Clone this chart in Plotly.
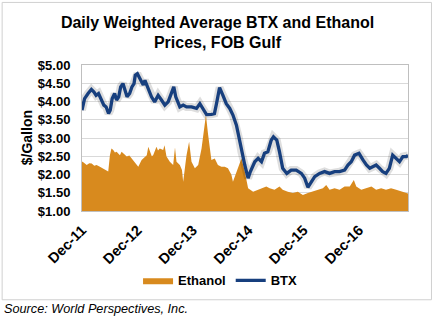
import plotly.graph_objects as go

btx_dates = [
    "2011-12-01", "2011-12-18", "2012-01-10", "2012-02-01", "2012-02-18", "2012-03-03",
    "2012-03-19", "2012-04-05", "2012-04-23", "2012-05-08", "2012-05-24", "2012-06-04",
    "2012-06-17", "2012-07-03", "2012-07-16", "2012-07-30", "2012-08-12", "2012-08-27",
    "2012-09-08", "2012-09-23", "2012-10-10", "2012-10-25", "2012-11-08", "2012-11-16",
    "2012-11-30", "2012-12-15", "2012-12-28", "2013-01-08", "2013-01-19", "2013-02-10",
    "2013-03-03", "2013-03-24", "2013-04-16", "2013-05-08", "2013-05-30", "2013-06-21",
    "2013-07-13", "2013-07-28", "2013-08-10", "2013-09-06", "2013-09-28", "2013-10-20",
    "2013-11-22", "2013-12-25", "2014-01-16", "2014-02-08", "2014-03-01", "2014-04-02",
    "2014-04-22", "2014-05-06", "2014-05-26", "2014-06-17", "2014-07-09", "2014-08-01",
    "2014-08-22", "2014-09-14", "2014-10-01", "2014-10-17", "2014-11-08", "2014-11-30",
    "2014-12-15", "2015-01-13", "2015-02-04", "2015-02-26", "2015-03-18", "2015-04-09",
    "2015-05-01", "2015-05-16", "2015-06-07", "2015-06-25", "2015-07-16", "2015-08-12",
    "2015-09-10", "2015-10-13", "2015-11-16", "2015-12-08", "2015-12-29", "2016-01-21",
    "2016-02-12", "2016-03-15", "2016-04-17", "2016-05-20", "2016-06-22", "2016-07-25",
    "2016-08-27", "2016-09-18", "2016-10-10", "2016-11-01", "2016-11-30", "2016-12-26",
    "2017-01-18", "2017-02-09", "2017-03-01", "2017-03-23", "2017-04-14", "2017-05-05",
    "2017-05-27", "2017-06-18", "2017-07-10", "2017-08-02", "2017-08-24", "2017-09-15",
    "2017-10-07", "2017-10-19",
]
btx_values = [
    3.76, 4.08, 4.22, 4.33, 4.26, 4.17,
    4.22, 4.04, 3.90, 3.85, 3.67, 3.76,
    4.08, 4.22, 4.04, 4.13, 4.40, 4.49,
    4.35, 4.13, 4.22, 4.40, 4.49, 4.72,
    4.76, 4.63, 4.54, 4.45, 4.58, 4.35,
    4.13, 3.99, 4.17, 4.04, 3.90, 3.99,
    4.26, 4.40, 4.13, 3.85, 3.90, 3.85,
    3.85, 3.81, 3.94, 3.78, 3.64, 3.65,
    3.67, 3.95, 4.38, 4.17, 3.94, 3.81,
    3.63, 3.35, 2.99, 2.62, 2.26, 1.90,
    2.08, 2.35, 2.44, 2.35, 2.58, 2.62,
    2.94, 3.03, 2.94, 2.62, 2.17, 2.03,
    2.12, 2.12, 2.03, 1.90, 1.65, 1.80,
    1.94, 2.03, 2.08, 2.03, 2.08, 2.08,
    2.12, 2.26, 2.35, 2.53, 2.58, 2.40,
    2.26, 2.17, 2.21, 2.26, 2.17, 2.08,
    2.03, 2.17, 2.53, 2.44, 2.35, 2.49,
    2.49, 2.52,
]

eth_dates = [
    "2011-12-01", "2011-12-05", "2011-12-20", "2012-01-01", "2012-01-18", "2012-02-03",
    "2012-02-20", "2012-03-06", "2012-03-28", "2012-04-15", "2012-04-30", "2012-05-22",
    "2012-06-02", "2012-06-12", "2012-06-24", "2012-07-05", "2012-07-16", "2012-08-07",
    "2012-08-18", "2012-08-29", "2012-09-21", "2012-10-08", "2012-10-24", "2012-11-15",
    "2012-12-06", "2012-12-28", "2013-01-15", "2013-01-31", "2013-02-10", "2013-02-21",
    "2013-03-05", "2013-03-14", "2013-04-05", "2013-04-15", "2013-04-27", "2013-05-19",
    "2013-05-28", "2013-06-10", "2013-07-02", "2013-07-24", "2013-08-05", "2013-08-15",
    "2013-09-06", "2013-09-20", "2013-09-28", "2013-10-10", "2013-10-20", "2013-11-06",
    "2013-11-22", "2013-12-14", "2014-01-05", "2014-01-27", "2014-02-12", "2014-02-25",
    "2014-03-11", "2014-04-02", "2014-04-24", "2014-05-15", "2014-06-07", "2014-06-29",
    "2014-07-20", "2014-08-12", "2014-08-22", "2014-09-14", "2014-10-06", "2014-10-17",
    "2014-11-08", "2014-11-30", "2015-01-02", "2015-02-04", "2015-03-07", "2015-03-30",
    "2015-04-21", "2015-05-23", "2015-06-25", "2015-07-16", "2015-08-19", "2015-09-21",
    "2015-10-24", "2015-11-26", "2015-12-29", "2016-02-01", "2016-03-04", "2016-04-06",
    "2016-04-28", "2016-05-20", "2016-06-22", "2016-07-25", "2016-08-27", "2016-09-30",
    "2016-10-27", "2016-11-12", "2016-12-15", "2017-01-18", "2017-02-20", "2017-03-23",
    "2017-04-25", "2017-05-27", "2017-06-29", "2017-08-02", "2017-09-04", "2017-10-07",
    "2017-10-19",
]
eth_values = [
    2.35, 2.35, 2.30, 2.26, 2.31, 2.30,
    2.24, 2.26, 2.21, 2.17, 2.12, 2.08,
    2.53, 2.71, 2.67, 2.60, 2.62, 2.53,
    2.62, 2.58, 2.49, 2.52, 2.44, 2.30,
    2.21, 2.40, 2.47, 2.53, 2.76, 2.62,
    2.50, 2.53, 2.76, 2.66, 2.71, 2.67,
    2.80, 2.49, 2.35, 2.26, 2.74, 2.35,
    2.26, 2.12, 1.80, 2.20, 2.53, 2.90,
    2.35, 2.17, 2.26, 2.71, 3.17, 3.63,
    3.10, 2.40, 2.44, 2.26, 2.21, 2.21,
    2.17, 1.99, 1.80, 2.08, 2.35, 2.44,
    2.08, 1.62, 1.53, 1.58, 1.62, 1.67,
    1.62, 1.58, 1.67, 1.58, 1.53, 1.49,
    1.53, 1.44, 1.49, 1.53, 1.58, 1.62,
    1.71, 1.58, 1.62, 1.58, 1.67, 1.67,
    1.85, 1.67, 1.58, 1.62, 1.67, 1.58,
    1.62, 1.58, 1.62, 1.58, 1.53, 1.49,
    1.48,
]

y_ticks = [1.0, 1.5, 2.0, 2.5, 3.0, 3.5, 4.0, 4.5, 5.0]

ORANGE = "#D88A1E"
BLUE = "#173F7E"
FONT = "Liberation Sans, Arial, sans-serif"

fig = go.Figure()
fig.add_trace(go.Scatter(
    x=eth_dates, y=eth_values, name="<b>Ethanol</b>", mode="lines",
    line=dict(width=0, color=ORANGE), fill="tozeroy", fillcolor=ORANGE,
))
fig.add_trace(go.Scatter(
    x=btx_dates, y=btx_values, mode="lines", showlegend=False, hoverinfo="skip",
    line=dict(width=8, color="rgba(0,0,0,0.13)"),
))
fig.add_trace(go.Scatter(
    x=btx_dates, y=btx_values, name="<b>BTX</b>", mode="lines",
    line=dict(width=3.3, color=BLUE),
))

fig.update_layout(
    width=435, height=321,
    margin=dict(l=82, r=26.5, t=64.7, b=110, pad=0),
    paper_bgcolor="white", plot_bgcolor="white",
    font=dict(family=FONT, color="#000000", size=13),
    title=dict(
        text="<b>Daily Weighted Average BTX and Ethanol<br>Prices, FOB Gulf</b>",
        x=0.5, xanchor="center", y=0.914, yanchor="middle",
        font=dict(size=16, family=FONT, color="#000000"),
    ),
    showlegend=True,
    legend=dict(
        orientation="h", x=0.425, xanchor="center", y=-0.475, yanchor="middle",
        font=dict(size=13, family=FONT), bgcolor="rgba(0,0,0,0)",
        traceorder="normal",
    ),
    xaxis=dict(
        type="date", range=["2011-12-01", "2017-10-19"],
        tick0="2011-12-01", dtick="M12", tickformat="<b>%b-%y</b>",
        tickangle=-45, tickfont=dict(size=14.5, family=FONT),
        showgrid=False, showline=True, linecolor="#BFBFBF", linewidth=1, mirror=True,
        ticks="outside", ticklen=4, tickcolor="rgba(0,0,0,0)",
        zeroline=False, fixedrange=True,
    ),
    yaxis=dict(
        range=[1.0, 5.0], tickvals=y_ticks,
        ticktext=["<b>$%.2f</b>" % v for v in y_ticks],
        tickfont=dict(size=13, family=FONT),
        showgrid=True, gridcolor="#D9D9D9", gridwidth=1,
        showline=True, linecolor="#BFBFBF", linewidth=1, mirror=True,
        ticks="outside", ticklen=8, tickcolor="rgba(0,0,0,0)",
        zeroline=False, fixedrange=True,
    ),
    shapes=[dict(
        type="rect", xref="paper", yref="paper",
        x0=-0.245, x1=1.072, y0=-0.608, y1=1.4286,
        line=dict(color="#D0D0D0", width=1), fillcolor="rgba(0,0,0,0)", layer="below",
    )],
    annotations=[
        dict(
            text="<b>$/Gallon</b>", xref="paper", yref="paper", textangle=-90,
            x=-0.168, y=0.5, xanchor="center", yanchor="middle", showarrow=False,
            font=dict(size=14, family=FONT, color="#000000"),
        ),
        dict(
            text="<i>Source: World Perspectives, Inc.</i>", xref="paper", yref="paper",
            x=-0.245, y=-0.67, xanchor="left", yanchor="middle", showarrow=False,
            font=dict(size=12.7, family=FONT, color="#000000"),
        ),
    ],
)

fig.write_html("out.html")
